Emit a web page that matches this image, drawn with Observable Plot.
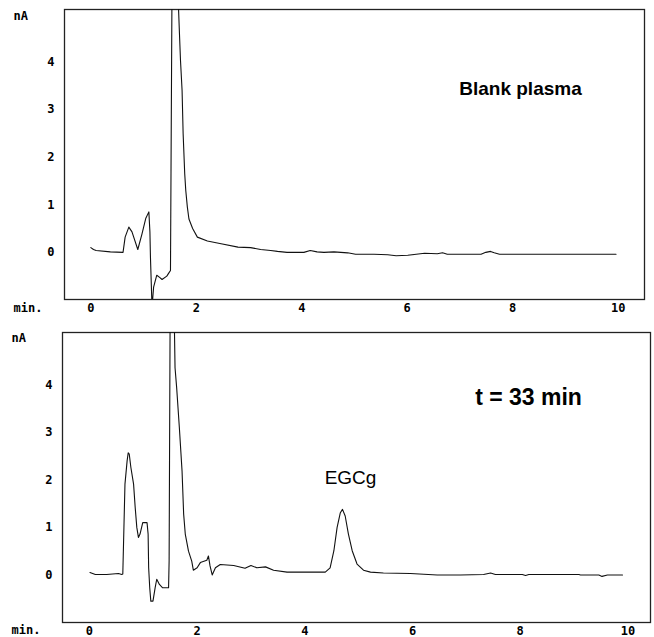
<!DOCTYPE html>
<html>
<head>
<meta charset="utf-8">
<script src="https://cdn.jsdelivr.net/npm/d3@7"></script>
<script src="https://cdn.jsdelivr.net/npm/@observablehq/plot@0.6"></script>
<style>
  body { margin: 0; background: #fff; }
  #chart svg { display: block; }
</style>
</head>
<body>
<div id="chart"></div>
<script>
// ---- Data (retention time in min, detector signal in nA) ----
const blankTime = [0, 0.05, 0.10, 0.37, 0.61, 0.65, 0.72, 0.78, 0.89, 0.97, 1.04, 1.10, 1.12, 1.13, 1.16, 1.19, 1.25, 1.31, 1.35, 1.44, 1.48, 1.51, 1.52, 1.54, 1.64, 1.68, 1.70, 1.73, 1.75, 1.78, 1.80, 1.83, 1.86, 1.93, 2.02, 2.21, 2.47, 2.79, 3.03, 3.22, 3.41, 3.54, 3.72, 4.04, 4.16, 4.29, 4.42, 4.61, 4.87, 5.02, 5.37, 5.63, 5.79, 6.01, 6.33, 6.57, 6.67, 6.76, 7.02, 7.40, 7.49, 7.58, 7.65, 7.75, 9.96];
const blankSignal = [0.10, 0.06, 0.04, 0.01, 0.00, 0.32, 0.53, 0.43, 0.06, 0.39, 0.71, 0.85, 0.43, -0.10, -1.15, -0.73, -0.48, -0.53, -0.57, -0.50, -0.43, -0.38, 1.70, 5.80, 5.80, 4.60, 4.03, 3.40, 2.49, 1.65, 1.30, 0.95, 0.70, 0.50, 0.32, 0.24, 0.18, 0.11, 0.10, 0.06, 0.04, 0.02, 0.00, 0.00, 0.04, 0.01, 0.00, 0.01, -0.01, -0.04, -0.04, -0.05, -0.07, -0.06, -0.02, -0.03, -0.01, -0.04, -0.04, -0.04, 0.00, 0.02, -0.01, -0.04, -0.04];

const t33Time = [0.01, 0.11, 0.32, 0.54, 0.60, 0.62, 0.66, 0.70, 0.72, 0.74, 0.77, 0.82, 0.85, 0.88, 0.91, 0.94, 0.99, 1.07, 1.09, 1.10, 1.12, 1.14, 1.18, 1.22, 1.25, 1.30, 1.36, 1.47, 1.48, 1.50, 1.57, 1.59, 1.62, 1.67, 1.72, 1.75, 1.78, 1.84, 1.90, 1.93, 2.00, 2.06, 2.18, 2.21, 2.24, 2.28, 2.34, 2.43, 2.68, 2.89, 3.00, 3.11, 3.27, 3.42, 3.67, 4.38, 4.47, 4.54, 4.60, 4.66, 4.70, 4.75, 4.81, 4.88, 4.97, 5.09, 5.22, 5.46, 5.96, 6.46, 6.89, 7.32, 7.45, 7.54, 8.04, 8.10, 8.16, 9.09, 9.12, 9.46, 9.52, 9.62, 9.90];
const t33Signal = [0.05, 0.01, 0.01, 0.03, 0.01, 0.02, 1.91, 2.40, 2.57, 2.54, 2.26, 1.91, 1.42, 1.00, 0.79, 0.86, 1.10, 1.10, 0.86, 0.15, -0.27, -0.55, -0.55, -0.27, -0.09, -0.20, -0.27, -0.27, 0.29, 5.80, 5.80, 4.36, 3.94, 3.10, 2.19, 1.28, 0.86, 0.50, 0.29, 0.10, 0.15, 0.26, 0.31, 0.40, 0.19, 0.00, 0.15, 0.22, 0.20, 0.14, 0.20, 0.15, 0.17, 0.10, 0.06, 0.06, 0.15, 0.51, 1.00, 1.31, 1.38, 1.24, 0.86, 0.51, 0.23, 0.10, 0.06, 0.04, 0.03, 0.00, 0.00, 0.01, 0.04, 0.01, 0.01, -0.01, 0.01, 0.01, 0.00, 0.00, -0.03, 0.00, 0.00];

const xTicks = [0, 2, 4, 6, 8, 10];
const yTicks = [0, 1, 2, 3, 4];
const yUnit = "nA";
const xUnit = "min.";
const titles = ["Blank plasma", "t = 33 min"];
const peakLabel = "EGCg";

// ---- Helpers ----
const toRows = (t, s) => t.map((x, i) => ({time: x, signal: s[i]}));
const mono = "'DejaVu Sans Mono', 'Liberation Mono', monospace";
const sans = "'Liberation Sans', Arial, sans-serif";
const tickFont = {fontFamily: mono, fontWeight: "bold", fontSize: 12};

function panel({rows, height, marginTop, marginBottom, marginLeft, marginRight, xDomain, yDomain, title, titleDx, titleDy, titleSize, unitDy, minDy, extra = []}) {
  return Plot.plot({
    width: 654,
    height,
    marginTop, marginBottom, marginLeft, marginRight,
    x: {domain: xDomain},
    y: {domain: yDomain},
    style: {fontFamily: mono, fontSize: "12px", fontWeight: "bold", color: "#000", background: "#fff"},
    marks: [
      Plot.frame({stroke: "#222", strokeWidth: 1.3}),
      Plot.axisX({ticks: xTicks, tickFormat: d => String(d), tickSize: 0, tickPadding: 4, label: null, ...tickFont}),
      Plot.axisY({ticks: yTicks, tickFormat: d => String(d), tickSize: 0, tickPadding: 10, label: null, ...tickFont}),
      Plot.line(rows, {x: "time", y: "signal", stroke: "#111", strokeWidth: 1.1, clip: true}),
      Plot.text([yUnit], {text: d => d, frameAnchor: "top-left", textAnchor: "start", lineAnchor: "middle", dx: -51, dy: unitDy, ...tickFont}),
      Plot.text([xUnit], {text: d => d, frameAnchor: "bottom-left", textAnchor: "start", lineAnchor: "middle", dx: -51, dy: minDy, ...tickFont, letterSpacing: "1.5px"}),
      Plot.text([title], {text: d => d, frameAnchor: "top-right", textAnchor: "middle", lineAnchor: "middle", dx: titleDx, dy: titleDy, fontFamily: sans, fontWeight: "bold", fontSize: titleSize}),
      ...extra
    ]
  });
}

const blankRows = toRows(blankTime, blankSignal);
const t33Rows = toRows(t33Time, t33Signal);

const topPanel = panel({
  rows: blankRows, height: 320, marginTop: 9, marginBottom: 21, marginLeft: 64, marginRight: 10,
  xDomain: [-0.5, 10.5], yDomain: [-0.99, 5.1],
  title: titles[0], titleDx: -124, titleDy: 79, titleSize: 19, unitDy: 7, minDy: 9
});

const bottomPanel = panel({
  rows: t33Rows, height: 317, marginTop: 12, marginBottom: 15, marginLeft: 62, marginRight: 4,
  xDomain: [-0.5, 10.42], yDomain: [-1.0, 5.1],
  title: titles[1], titleDx: -122, titleDy: 65, titleSize: 23, unitDy: 6, minDy: 8,
  extra: [
    Plot.text(t33Rows, Plot.selectMaxY({
      filter: d => d.time > 4 && d.time < 6,
      x: "time", y: "signal", text: () => peakLabel,
      dx: 8, dy: -31, textAnchor: "middle", lineAnchor: "middle",
      fontFamily: sans, fontWeight: "normal", fontSize: 19
    }))
  ]
});

const chart = document.getElementById("chart");
chart.appendChild(topPanel);
chart.appendChild(bottomPanel);
</script>
</body>
</html>
